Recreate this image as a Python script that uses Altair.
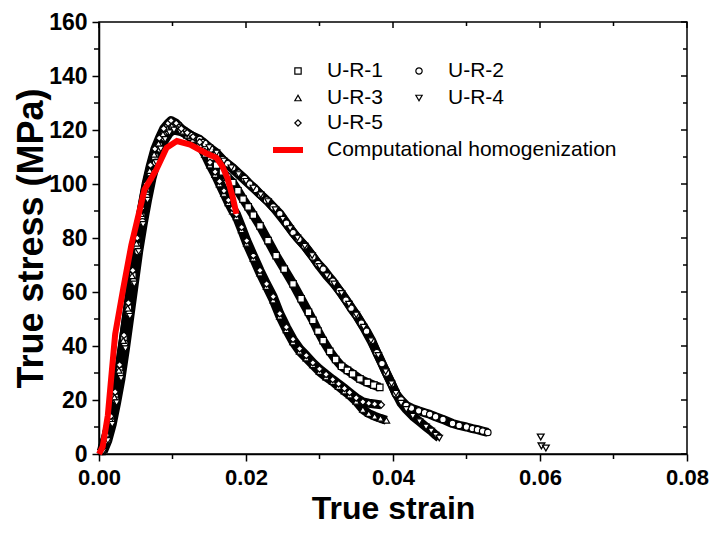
import altair as alt
import pandas as pd

# ---------------- data ----------------
series_names = ["U-R-1", "U-R-2", "U-R-3", "U-R-4", "U-R-5"]
series_shapes = ["square", "circle", "triangle-up", "triangle-down", "diamond"]

strain_ur1 = [0.0004, 0.0010, 0.0016, 0.0022, 0.0028, 0.0034, 0.0040, 0.0046, 0.0052, 0.0058,
              0.0064, 0.0070, 0.0076, 0.0082, 0.0088, 0.0094, 0.0099, 0.0107, 0.0115, 0.0125,
              0.0137, 0.0144, 0.0152, 0.0160, 0.0168, 0.0175, 0.0182, 0.0189, 0.0196, 0.0203,
              0.0210, 0.0219, 0.0230, 0.0241, 0.0252, 0.0264, 0.0275, 0.0285, 0.0291, 0.0298,
              0.0305, 0.0314, 0.0322, 0.0330, 0.0338, 0.0345, 0.0355, 0.0365, 0.0374, 0.0382]
stress_ur1 = [1, 6, 13, 21, 31, 43, 54, 66, 77, 88,
              97, 104, 110, 114, 118, 121, 122, 121.5, 119.5, 117.5,
              115.5, 113, 110, 107, 104.5, 102.5, 100.5, 97.5, 94.4, 91.5,
              88.5, 84.5, 79, 73.5, 68.5, 63, 57.5, 52.5, 49.5, 45.5,
              42, 38, 35, 32.5, 31, 29.7, 27.8, 26.5, 25.5, 24.7]

strain_ur2 = [0.0005, 0.0011, 0.0017, 0.0023, 0.0029, 0.0035, 0.0041, 0.0047, 0.0053, 0.0059,
              0.0065, 0.0071, 0.0077, 0.0083, 0.0089, 0.0095, 0.0101, 0.0107, 0.0115, 0.0125,
              0.0137, 0.0144, 0.0152, 0.0160, 0.0168, 0.0175, 0.0182, 0.0190, 0.0198, 0.0205,
              0.0213, 0.0220, 0.0228, 0.0237, 0.0246, 0.0255, 0.0264, 0.0272, 0.0280, 0.0291,
              0.0298, 0.0305, 0.0312, 0.0318, 0.0327, 0.0336, 0.0343, 0.0350, 0.0357, 0.0364,
              0.0371, 0.0378, 0.0385, 0.0391, 0.0398, 0.0404, 0.0411, 0.0418, 0.0425, 0.0435,
              0.0443, 0.0450, 0.0458, 0.0468, 0.0481, 0.0490, 0.0500, 0.0508, 0.0515, 0.0522,
              0.0529]
stress_ur2 = [1, 5, 12, 20, 30, 41, 52, 64, 75, 86,
              95, 102, 108, 113, 117, 119.5, 121, 121, 119.5, 118,
              116.5, 115, 113, 111, 109, 107.5, 106, 104, 102, 100,
              98, 96, 94, 91.5, 89, 85.5, 82, 79.5, 77, 73,
              70.5, 68.5, 66, 64, 60.5, 57, 54, 51.5, 48.5, 45.5,
              42, 37.5, 33.5, 30, 26, 22.3, 20, 18, 17, 16,
              15.3, 14.7, 13.8, 12.8, 11.3, 10.6, 10, 9.4, 9, 8.5,
              8.0]

strain_ur3 = [0.0003, 0.0009, 0.0015, 0.0021, 0.0027, 0.0033, 0.0039, 0.0045, 0.0051, 0.0057,
              0.0063, 0.0069, 0.0075, 0.0081, 0.0087, 0.0093, 0.0099, 0.0106, 0.0113, 0.0120,
              0.0128, 0.0137, 0.0144, 0.0151, 0.0158, 0.0164, 0.0170, 0.0176, 0.0182, 0.0187,
              0.0194, 0.0201, 0.0210, 0.0219, 0.0228, 0.0237, 0.0246, 0.0255, 0.0264, 0.0273,
              0.0282, 0.0291, 0.0300, 0.0309, 0.0318, 0.0326, 0.0334, 0.0341, 0.0350, 0.0359,
              0.0367, 0.0375, 0.0383, 0.0391]
stress_ur3 = [1, 6, 13, 21, 31, 42, 54, 66, 78, 89,
              98, 105, 111, 115, 118.5, 120.5, 121.5, 121, 119.5, 118,
              116.5, 114.5, 111, 107, 103.5, 100, 96.5, 93, 90, 87.8,
              83, 78, 72.5, 67, 62, 57, 51, 46, 41.5, 38,
              35.5, 33, 30.5, 28.5, 26.8, 25, 23.3, 21.8, 19.5, 16.5,
              15, 14, 13.2, 12.5]

strain_ur4 = [0.0006, 0.0012, 0.0018, 0.0024, 0.0030, 0.0036, 0.0042, 0.0048, 0.0054, 0.0060,
              0.0066, 0.0072, 0.0078, 0.0084, 0.0090, 0.0096, 0.0102, 0.0110, 0.0120, 0.0130,
              0.0140, 0.0150, 0.0160, 0.0170, 0.0180, 0.0190, 0.0200, 0.0210, 0.0220, 0.0230,
              0.0240, 0.0250, 0.0260, 0.0270, 0.0280, 0.0290, 0.0300, 0.0310, 0.0320, 0.0330,
              0.0340, 0.0350, 0.0360, 0.0370, 0.0380, 0.0390, 0.0398, 0.0404, 0.0411, 0.0418,
              0.0427, 0.0436, 0.0445, 0.0452, 0.0458, 0.0463]
stress_ur4 = [1, 5, 11, 19, 28, 39, 51, 63, 75, 85,
              94, 102, 108, 113, 116.5, 119, 120, 119.5, 118.5, 117,
              115.5, 113.5, 111.5, 108.5, 106, 103.5, 101, 98.5, 96, 93.5,
              90.5, 87, 83.5, 80, 77, 73.5, 69.5, 66, 63, 59.5,
              55.5, 51.5, 47, 42, 36.5, 30.5, 26, 22.5, 18.8, 16.5,
              14, 12, 10, 8.5, 7, 5.9]

strain_ur4_extra = [0.0601, 0.0602, 0.0608]
stress_ur4_extra = [6.3, 3.0, 2.2]

strain_ur5 = [0.0004, 0.0010, 0.0016, 0.0022, 0.0028, 0.0034, 0.0040, 0.0046, 0.0052, 0.0058,
              0.0064, 0.0070, 0.0076, 0.0082, 0.0088, 0.0094, 0.0098, 0.0105, 0.0112, 0.0120,
              0.0128, 0.0137, 0.0144, 0.0151, 0.0158, 0.0164, 0.0170, 0.0176, 0.0182, 0.0187,
              0.0194, 0.0201, 0.0210, 0.0219, 0.0228, 0.0237, 0.0246, 0.0255, 0.0264, 0.0273,
              0.0282, 0.0291, 0.0300, 0.0309, 0.0318, 0.0326, 0.0334, 0.0341, 0.0350, 0.0359,
              0.0367, 0.0375, 0.0384]
stress_ur5 = [2, 7, 14, 23, 33, 44, 56, 68, 80, 91,
              100, 107, 113, 117, 120.5, 122.5, 123.5, 122.5, 120.5, 119,
              117.5, 115.5, 112, 108, 104.5, 101, 97.5, 94, 91, 88.8,
              84, 79, 73.5, 68, 63, 58.3, 52, 47, 42.5, 39,
              36.5, 33.8, 31.5, 29.5, 27.6, 26, 24.3, 22.8, 20.8, 19.3,
              18.8, 18.5, 18.2]

strain_comp = [0.0000, 0.0005, 0.0012, 0.0022, 0.0033, 0.0044, 0.0062, 0.0078, 0.0092,
               0.0106, 0.0124, 0.0145, 0.0160, 0.0168, 0.0175, 0.0182, 0.0187]
stress_comp = [0, 2.7, 14.3, 44.4, 61.3, 77.4, 98.0, 105.3, 113.4,
               115.9, 114.6, 111.5, 109.7, 106.5, 102.0, 95.0, 88.9]

x_major = [0.00, 0.02, 0.04, 0.06, 0.08]
x_minor = [0.01, 0.03, 0.05, 0.07]
y_major = [0, 20, 40, 60, 80, 100, 120, 140, 160]
y_minor = [10, 30, 50, 70, 90, 110, 130, 150]
comp_label = "Computational homogenization"

# ---------------- tables ----------------
series_data = [strain_ur1, stress_ur1, strain_ur2, stress_ur2, strain_ur3, stress_ur3,
               strain_ur4, stress_ur4, strain_ur5, stress_ur5]
rows = []
for k, name in enumerate(series_names):
    xs, ys = series_data[2 * k], series_data[2 * k + 1]
    for i, (x, y) in enumerate(zip(xs, ys)):
        rows.append({"series": name, "strain": x, "stress": y, "idx": i})
df = pd.DataFrame(rows)
df_extra = pd.DataFrame({"series": "U-R-4", "strain": strain_ur4_extra, "stress": stress_ur4_extra})
df_comp = pd.DataFrame({"strain": strain_comp, "stress": stress_comp, "idx": range(len(strain_comp))})

W, H = 588, 432
BOLD = "Liberation Sans, Arial"
xscale = alt.Scale(domain=[0, 0.08], nice=False, zero=False)
yscale = alt.Scale(domain=[0, 160], nice=False, zero=False)
shape_scale = alt.Scale(domain=series_names, range=series_shapes)

x_axis = alt.Axis(values=x_major, format=".2f", title="True strain",
                  tickSize=7, labelPadding=6, labelFlush=False, labelFontSize=22,
                  titleFontSize=32, titleBaseline="alphabetic", titleY=64)
y_axis = alt.Axis(values=y_major, format="d", title="True stress (MPa)",
                  tickSize=7, labelPadding=5, labelFlush=False, labelFontSize=23,
                  titleFontSize=36, titleBaseline="alphabetic", titleX=-57, titleY=H / 2)
x_enc = alt.X("strain:Q", scale=xscale, axis=x_axis)
y_enc = alt.Y("stress:Q", scale=yscale, axis=y_axis)

lines = alt.Chart(df).mark_line(color="black", strokeWidth=9, strokeJoin="round").encode(
    x=x_enc, y=y_enc, detail="series:N", order="idx:Q")

points = alt.Chart(df).mark_point(filled=False, fill="white", stroke="black",
                                  strokeWidth=1.2, size=42, opacity=1).encode(
    x=x_enc, y=y_enc,
    shape=alt.Shape("series:N", scale=shape_scale, legend=None))

extra = alt.Chart(df_extra).mark_point(filled=False, fill="white", stroke="black",
                                       strokeWidth=1.3, size=45, opacity=1).encode(
    x=x_enc, y=y_enc,
    shape=alt.Shape("series:N", scale=shape_scale, legend=None))

comp = alt.Chart(df_comp).mark_line(color="#ff0000", strokeWidth=6).encode(
    x=x_enc, y=y_enc, order="idx:Q")

# minor ticks (outside, bottom/left) and mirrored ticks (inside, top/right)
dx_min = pd.DataFrame({"strain": x_minor})
dx_maj = pd.DataFrame({"strain": x_major})
dy_min = pd.DataFrame({"stress": y_minor})
dy_maj = pd.DataFrame({"stress": y_major})
tick_layers = [
    alt.Chart(dx_min).mark_rule(color="black", strokeWidth=1.5).encode(
        x=x_enc, y=alt.value(H), y2=alt.value(H + 5)),
    alt.Chart(dy_min).mark_rule(color="black", strokeWidth=1.5).encode(
        y=y_enc, x=alt.value(0), x2=alt.value(-5)),
    alt.Chart(dx_maj).mark_rule(color="black", strokeWidth=1.5).encode(
        x=x_enc, y=alt.value(0), y2=alt.value(6)),
    alt.Chart(dx_min).mark_rule(color="black", strokeWidth=1.5).encode(
        x=x_enc, y=alt.value(0), y2=alt.value(4)),
    alt.Chart(dy_maj).mark_rule(color="black", strokeWidth=1.5).encode(
        y=y_enc, x=alt.value(W), x2=alt.value(W - 6)),
    alt.Chart(dy_min).mark_rule(color="black", strokeWidth=1.5).encode(
        y=y_enc, x=alt.value(W), x2=alt.value(W - 4)),
]

# legend (drawn manually to copy the reference layout)
leg_pos = [(199, 49), (320, 49), (199, 76), (320, 76), (199, 101)]
legend_layers = []
dummy = pd.DataFrame({"a": [0]})
for name, shp, (px, py) in zip(series_names, series_shapes, leg_pos):
    legend_layers.append(
        alt.Chart(dummy).mark_point(shape=shp, filled=False, fill="white", stroke="black",
                                    strokeWidth=1.2, size=40, opacity=1).encode(
            x=alt.value(px), y=alt.value(py)))
    legend_layers.append(
        alt.Chart(dummy).mark_text(text=name, align="left", baseline="middle",
                                   font="Liberation Sans, Arial", fontSize=21, color="black").encode(
            x=alt.value(px + 29), y=alt.value(py)))
legend_layers.append(
    alt.Chart(dummy).mark_rule(color="#ff0000", strokeWidth=6).encode(
        x=alt.value(174), x2=alt.value(204), y=alt.value(128)))
legend_layers.append(
    alt.Chart(dummy).mark_text(text=comp_label, align="left", baseline="middle",
                               font="Liberation Sans, Arial", fontSize=21, color="black").encode(
        x=alt.value(228), y=alt.value(128)))

chart = alt.layer(lines, points, extra, comp, *tick_layers, *legend_layers).properties(
    width=W, height=H,
    autosize=alt.AutoSizeParams(type="none"),
    padding={"left": 91, "top": 14, "right": 22, "bottom": 75},
    background="white",
).configure_view(
    stroke="black", strokeWidth=1.5
).configure_axis(
    grid=False, domainColor="black", domainWidth=1.5, tickColor="black", tickWidth=1.5,
    labelFont=BOLD, labelFontWeight="bold", labelColor="black",
    titleFont=BOLD, titleFontWeight="bold", titleColor="black",
)

chart.save("out.html", embed_options={"renderer": "svg", "actions": False})
